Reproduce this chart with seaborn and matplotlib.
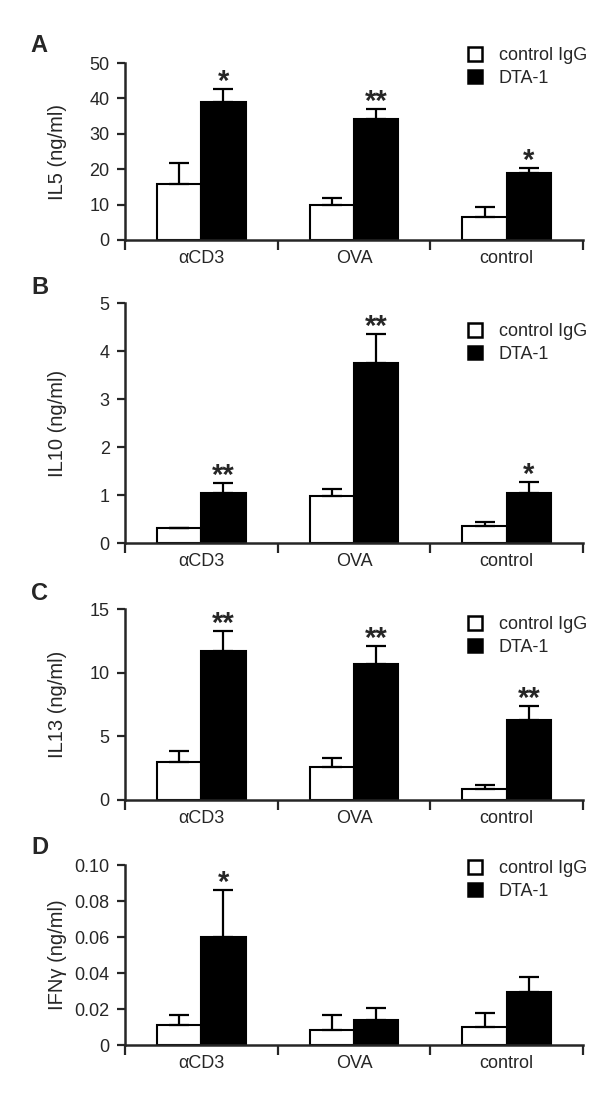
import numpy as np
import pandas as pd
import matplotlib
matplotlib.use("Agg")
import matplotlib.pyplot as plt
import seaborn as sns

sns.set_style("ticks")
plt.rcParams['font.family'] = ['Liberation Sans Narrow', 'Liberation Sans', 'DejaVu Sans']

# ---- data ----
categories = ["\u03b1CD3", "OVA", "control"]
groups = ["control IgG", "DTA-1"]

il5_ctrl = [15.8, 9.9, 6.5]
il5_ctrl_err = [5.9, 1.9, 2.9]
il5_dta = [39.0, 34.2, 18.9]
il5_dta_err = [3.7, 2.8, 1.5]
il5_stars = ["*", "**", "*"]

il10_ctrl = [0.31, 0.98, 0.35]
il10_ctrl_err = [0.0, 0.14, 0.09]
il10_dta = [1.04, 3.76, 1.04]
il10_dta_err = [0.21, 0.60, 0.23]
il10_stars = ["**", "**", "*"]

il13_ctrl = [2.98, 2.6, 0.84]
il13_ctrl_err = [0.85, 0.7, 0.31]
il13_dta = [11.7, 10.7, 6.3]
il13_dta_err = [1.6, 1.4, 1.1]
il13_stars = ["**", "**", "**"]

ifng_ctrl = [0.0111, 0.0085, 0.0102]
ifng_ctrl_err = [0.0056, 0.0080, 0.0074]
ifng_dta = [0.060, 0.0140, 0.0296]
ifng_dta_err = [0.026, 0.0063, 0.0084]
ifng_stars = ["*", "", ""]

panels = [
    dict(letter="A", ylabel="IL5 (ng/ml)", ctrl=il5_ctrl, ctrl_err=il5_ctrl_err,
         dta=il5_dta, dta_err=il5_dta_err, stars=il5_stars,
         ticks=[0, 10, 20, 30, 40, 50], ticklabels=["0", "10", "20", "30", "40", "50"]),
    dict(letter="B", ylabel="IL10 (ng/ml)", ctrl=il10_ctrl, ctrl_err=il10_ctrl_err,
         dta=il10_dta, dta_err=il10_dta_err, stars=il10_stars,
         ticks=[0, 1, 2, 3, 4, 5], ticklabels=["0", "1", "2", "3", "4", "5"]),
    dict(letter="C", ylabel="IL13 (ng/ml)", ctrl=il13_ctrl, ctrl_err=il13_ctrl_err,
         dta=il13_dta, dta_err=il13_dta_err, stars=il13_stars,
         ticks=[0, 5, 10, 15], ticklabels=["0", "5", "10", "15"]),
    dict(letter="D", ylabel="IFN\u03b3 (ng/ml)", ctrl=ifng_ctrl, ctrl_err=ifng_ctrl_err,
         dta=ifng_dta, dta_err=ifng_dta_err, stars=ifng_stars,
         ticks=[0, 0.02, 0.04, 0.06, 0.08, 0.10],
         ticklabels=["0", "0.02", "0.04", "0.06", "0.08", "0.10"]),
]

# layout in pixels (top of axis, zero line), fig 600x1094
W, H = 600, 1094
ax_left, ax_right = 125, 583
ax_rows = [(63, 240), (303, 543), (609, 800), (865, 1045)]
letter_pos = [(39, 46), (40, 288), (40, 593), (40, 848)]
legend_first_row = [56, 332, 625, 869]

fig = plt.figure(figsize=(6, 10.94), dpi=100)
fs = 13

for p, (top, zero), (lx, ly), lrow in zip(panels, ax_rows, letter_pos, legend_first_row):
    ax = fig.add_axes([ax_left / W, 1 - zero / H, (ax_right - ax_left) / W, (zero - top) / H])
    df = pd.DataFrame({
        "stimulus": categories * 2,
        "treatment": [groups[0]] * 3 + [groups[1]] * 3,
        "value": list(p["ctrl"]) + list(p["dta"]),
    })
    sns.barplot(data=df, x="stimulus", y="value", hue="treatment", order=categories,
                hue_order=groups, palette=["white", "black"], edgecolor="black",
                linewidth=1.5, width=0.58, errorbar=None, ax=ax, legend=True)
    errs = [p["ctrl_err"], p["dta_err"]]
    for cont, err in zip(ax.containers, errs):
        xs = np.array([b.get_x() + b.get_width() / 2 for b in cont])
        ys = np.array([b.get_height() for b in cont])
        err = np.array(err)
        ax.errorbar(xs, ys, yerr=[np.zeros_like(err), err], fmt="none", ecolor="black",
                    elinewidth=1.6, capsize=7, capthick=1.6, zorder=3)
    # stars above DTA-1 bars
    cont = ax.containers[1]
    for b, e, s in zip(cont, p["dta_err"], p["stars"]):
        if s:
            ax.annotate(s, xy=(b.get_x() + b.get_width() / 2, b.get_height() + e),
                        xytext=(0, -5), textcoords="offset points", ha="center",
                        va="bottom", fontsize=21, fontweight="bold",
                        fontfamily="Liberation Sans")
    ax.set_xlim(-0.5, 2.5)
    ax.set_ylim(0, p["ticks"][-1])
    ax.set_yticks(p["ticks"])
    ax.set_yticklabels(p["ticklabels"], fontsize=fs)
    ax.set_xticks(range(3))
    ax.set_xticklabels(categories, fontsize=fs)
    ax.set_xticks([-0.5, 0.5, 1.5, 2.5], minor=True)
    ax.tick_params(axis="x", which="major", length=0, pad=7)
    ax.tick_params(axis="x", which="minor", length=7, width=1.6, direction="out")
    ax.tick_params(axis="y", length=6, width=1.6, pad=5, direction="out")
    for side in ["top", "right"]:
        ax.spines[side].set_visible(False)
    for side in ["left", "bottom"]:
        ax.spines[side].set_linewidth(1.8)
    ax.set_xlabel("")
    ax.set_ylabel(p["ylabel"], fontsize=14.5)
    ax.yaxis.set_label_coords((67 - ax_left) / (ax_right - ax_left), 0.5)
    handles, labels = ax.get_legend_handles_labels()
    ax.legend(handles, labels, loc="upper left", frameon=False,
              bbox_to_anchor=(468 / W, 1 - (lrow - 9) / H), bbox_transform=fig.transFigure,
              borderpad=0, borderaxespad=0, handlelength=0.8, handleheight=0.8,
              handletextpad=0.9, labelspacing=0.3, fontsize=fs)
    for h in ax.get_legend().legend_handles:
        h.set_linewidth(1.8)
        h.set_edgecolor("black")
    fig.text(lx / W, 1 - ly / H, p["letter"], ha="center", va="center",
             fontweight="bold", fontsize=17, fontfamily="Liberation Sans")

fig.savefig("out.png", dpi=100)
